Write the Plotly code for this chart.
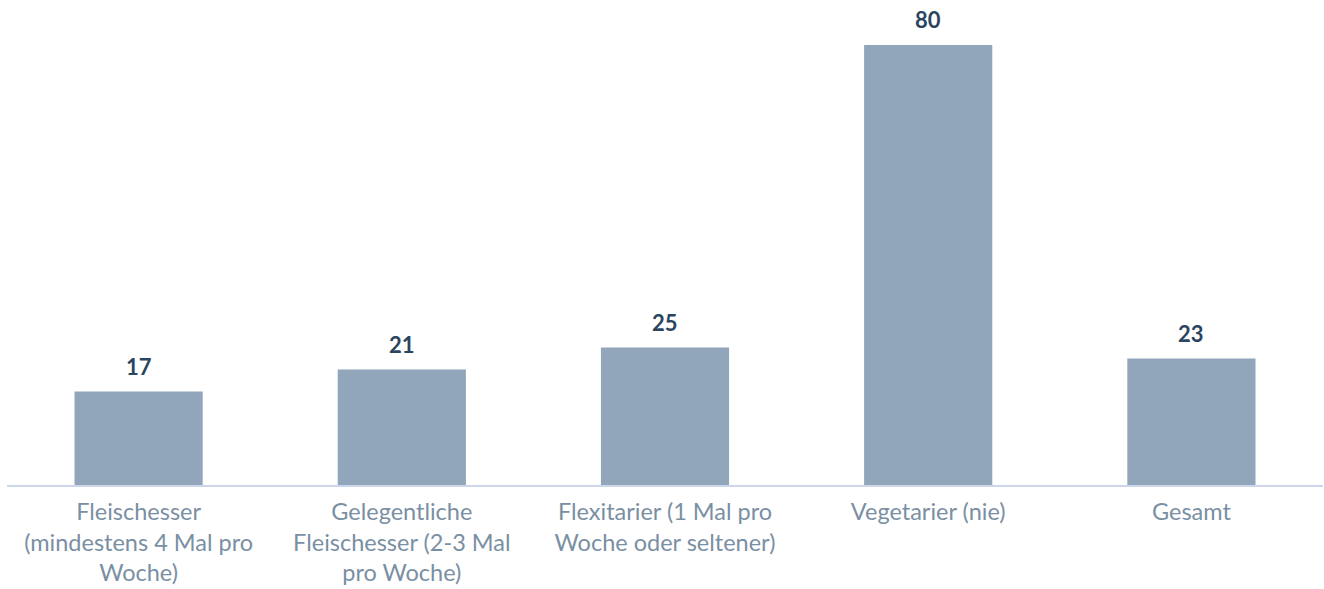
import plotly.graph_objects as go

categories = [
    "Fleischesser<br>(mindestens 4 Mal pro<br>Woche)",
    "Gelegentliche<br>Fleischesser (2-3 Mal<br>pro Woche)",
    "Flexitarier (1 Mal pro<br>Woche oder seltener)",
    "Vegetarier (nie)",
    "Gesamt",
]
values = [17, 21, 25, 80, 23]

FONT = "Lato, 'Source Sans Pro', 'Noto Sans', sans-serif"

fig = go.Figure(
    go.Bar(
        x=categories,
        y=values,
        marker=dict(color="#91a6ba", line=dict(width=0)),
        hoverinfo="skip",
    )
)

for c, v in zip(categories, values):
    fig.add_annotation(
        x=c, y=v, text=f"<b>{v}</b>", showarrow=False,
        yanchor="bottom", yshift=10,
        font=dict(family=FONT, size=22, color="#2b4561"),
    )

top_margin = 20
base_y = 485
ymax = (base_y - top_margin) / 5.5

fig.update_layout(
    width=1324,
    height=589,
    margin=dict(l=7, r=1, t=top_margin, b=589 - base_y),
    paper_bgcolor="white",
    plot_bgcolor="white",
    bargap=0.513,
    showlegend=False,
    font=dict(family=FONT),
    xaxis=dict(
        showline=True,
        linecolor="#ccd6eb",
        linewidth=2,
        showgrid=False,
        zeroline=False,
        ticks="",
        ticklabelstandoff=5,
        automargin=False,
        tickfont=dict(family=FONT, size=23.5, color="#7a8fa3"),
        fixedrange=True,
    ),
    yaxis=dict(
        range=[0, ymax],
        visible=False,
        showgrid=False,
        zeroline=False,
        fixedrange=True,
    ),
)

fig.write_html(
    "out.html",
    config={"displayModeBar": False},
    post_script="document.body.style.margin='0';",
)
